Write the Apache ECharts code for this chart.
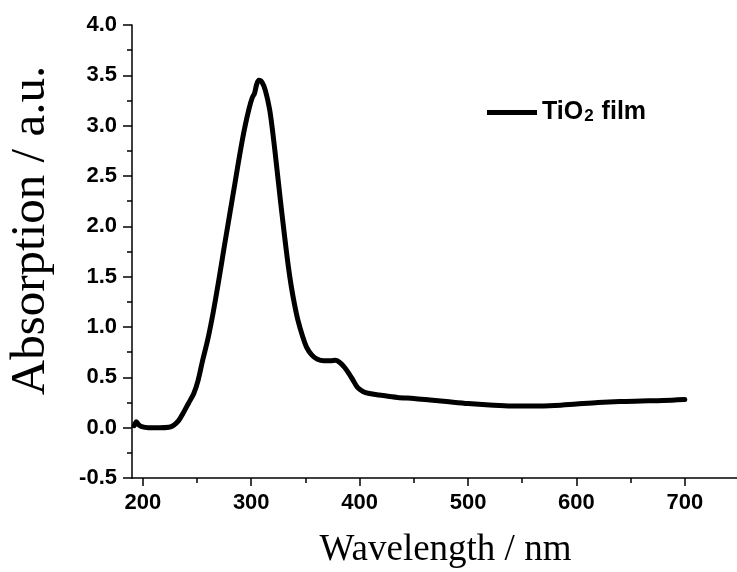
<!DOCTYPE html>
<html>
<head>
<meta charset="utf-8">
<script src="https://cdn.jsdelivr.net/npm/echarts@6/dist/echarts.min.js"></script>
<style>
  html, body { margin: 0; padding: 0; background: #ffffff; }
  #chart { width: 737px; height: 572px; }
</style>
</head>
<body>
<div id="chart"></div>
<script>
// UV-Vis absorption spectrum of a TiO2 film
const wavelength = [
  192, 194, 196, 199, 205, 215, 224, 228, 233, 237, 242, 247, 251, 255, 260, 265, 270, 275,
  280, 285, 290, 294, 298, 301, 303, 305, 307, 310, 313, 317, 320, 323, 327, 331, 334, 337,
  340, 343, 347, 351, 356, 361, 367, 373, 378, 382, 386, 390, 394, 398, 403, 409, 418, 435,
  450, 465, 480, 500, 520, 540, 560, 580, 600, 620, 640, 660, 680, 700
];
const absorbance = [
  0.02, 0.06, 0.03, 0.01, 0.00, 0.00, 0.005, 0.02, 0.07, 0.14, 0.24, 0.34, 0.47, 0.66, 0.88, 1.15, 1.46, 1.79,
  2.11, 2.43, 2.75, 2.98, 3.17, 3.28, 3.32, 3.41, 3.45, 3.43, 3.35, 3.16, 2.92, 2.64, 2.25, 1.88, 1.62, 1.40,
  1.22, 1.07, 0.92, 0.80, 0.72, 0.68, 0.665, 0.665, 0.67, 0.645, 0.60, 0.54, 0.47, 0.40, 0.36, 0.34, 0.325, 0.30,
  0.29, 0.275, 0.26, 0.24, 0.225, 0.215, 0.215, 0.22, 0.235, 0.25, 0.26, 0.265, 0.27, 0.28
];

const seriesName = 'TiO2 film';
const xTickValues = [200, 300, 400, 500, 600, 700];
const xMinorTickValues = [250, 350, 450, 550, 650];
const xTitle = 'Wavelength / nm';
const yTitle = 'Absorption / a.u.';

const points = wavelength.map((w, i) => [w, absorbance[i]]);

const labelFont = {
  color: '#000',
  fontFamily: 'Liberation Sans',
  fontWeight: 'bold',
  fontSize: 22
};
const titleFont = {
  color: '#000',
  fontFamily: 'Liberation Serif',
  fontWeight: 'normal'
};
const axisStroke = { color: '#000', width: 1.5 };

// the visible bottom axis carries the line and labels; two overlaid axes carry the major and minor ticks
const xRange = { type: 'value', min: 190, max: 750, position: 'bottom', splitLine: { show: false } };

const chart = echarts.init(document.getElementById('chart'), null, { renderer: 'canvas' });

chart.setOption({
  backgroundColor: '#ffffff',
  animation: false,
  grid: { left: 132, right: -2, top: 25, bottom: 94, outerBoundsMode: 'none', containLabel: false },
  legend: {
    left: 487,
    top: 100,
    padding: 0,
    icon: 'rect',
    itemWidth: 50,
    itemHeight: 5,
    itemStyle: { color: '#000' },
    data: [seriesName],
    formatter: () => '{m|TiO}{s|2}{m| film}',
    textStyle: {
      rich: {
        m: { fontFamily: 'Liberation Sans', fontWeight: 'bold', fontSize: 25, color: '#000' },
        s: { fontFamily: 'Liberation Sans', fontWeight: 'bold', fontSize: 17, color: '#000', padding: [8, 1, 0, 1] }
      }
    }
  },
  xAxis: [
    Object.assign({}, xRange, {
      axisLine: { show: true, onZero: false, lineStyle: axisStroke },
      axisTick: { show: false },
      axisLabel: Object.assign({ margin: 14, customValues: xTickValues }, labelFont),
      name: xTitle,
      nameLocation: 'middle',
      nameGap: 54,
      nameTextStyle: Object.assign({ fontSize: 37, padding: [0, 0, 0, 20] }, titleFont)
    }),
    Object.assign({}, xRange, {
      axisLine: { show: false, onZero: false },
      axisTick: { show: true, inside: false, length: 8, lineStyle: axisStroke, customValues: xTickValues },
      axisLabel: { show: false }
    }),
    Object.assign({}, xRange, {
      axisLine: { show: false, onZero: false },
      axisTick: { show: true, inside: false, length: 5, lineStyle: axisStroke, customValues: xMinorTickValues },
      axisLabel: { show: false }
    })
  ],
  yAxis: {
    type: 'value',
    min: -0.5,
    max: 4.0,
    interval: 0.5,
    axisLine: { show: true, onZero: false, lineStyle: axisStroke },
    axisTick: { show: true, inside: false, length: 9, lineStyle: axisStroke },
    minorTick: { show: true, splitNumber: 2, length: 5, lineStyle: axisStroke },
    axisLabel: Object.assign({ margin: 15, formatter: (v) => v.toFixed(1) }, labelFont),
    splitLine: { show: false },
    minorSplitLine: { show: false },
    name: yTitle,
    nameLocation: 'middle',
    nameGap: 76,
    nameTextStyle: Object.assign({ fontSize: 49, padding: [0, 0, 0, 42] }, titleFont)
  },
  series: [
    {
      name: seriesName,
      type: 'line',
      xAxisIndex: 0,
      data: points,
      symbol: 'none',
      smooth: 0.3,
      lineStyle: { color: '#000', width: 5, cap: 'round', join: 'round' },
      itemStyle: { color: '#000' }
    }
  ]
});
</script>
</body>
</html>
